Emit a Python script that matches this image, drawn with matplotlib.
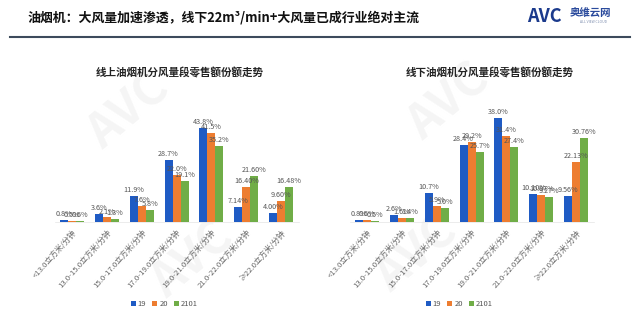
import numpy as np
import matplotlib.pyplot as plt

plt.rcParams['font.family'] = ['Noto Sans CJK SC', 'DejaVu Sans']

categories = ['<13.0立方米/分钟', '13.0-15.0立方米/分钟', '15.0-17.0立方米/分钟',
              '17.0-19.0立方米/分钟', '19.0-21.0立方米/分钟', '21.0-22.0立方米/分钟',
              '≥22.0立方米/分钟']
series_names = ['19', '20', '2101']

online_19 = [0.8, 3.6, 11.9, 28.7, 43.8, 7.14, 4.00]
online_20 = [0.5, 2.1, 7.6, 22.0, 41.5, 16.40, 9.60]
online_2101 = [0.6, 1.3, 5.8, 19.1, 35.2, 21.60, 16.48]

offline_19 = [0.8, 2.6, 10.7, 28.4, 38.0, 10.10, 9.56]
offline_20 = [0.6, 1.6, 5.9, 29.2, 31.4, 10.07, 22.13]
offline_2101 = [0.5, 1.4, 5.0, 25.7, 27.4, 9.27, 30.76]

decimals = [1, 1, 1, 1, 1, 2, 2]

colors = ['#1F5BC4', '#ED7D31', '#70AD47']


def draw(ax, data, ymax, title, fig_x):
    x = np.arange(len(categories))
    w = 0.23
    for i, vals in enumerate(data):
        pos = x + (i - 1) * w
        ax.bar(pos, vals, w, color=colors[i], label=series_names[i])
        for p, v, d in zip(pos, vals, decimals):
            ax.text(p, v + ymax * 0.015, f'{v:.{d}f}%', ha='center', va='bottom',
                    fontsize=5.2, color='#555555')
    ax.set_xlim(-0.5, len(categories) - 0.5)
    ax.set_ylim(0, ymax)
    ax.set_yticks([])
    ax.set_xticks(x)
    ax.set_xticklabels(categories, rotation=48, ha='right', rotation_mode='anchor',
                       fontsize=5.6, color='#666666')
    ax.tick_params(axis='x', length=0, pad=5)
    for s in ['top', 'right', 'left']:
        ax.spines[s].set_visible(False)
    ax.spines['bottom'].set_color('#e4e4e4')
    ax.spines['bottom'].set_linewidth(0.5)
    ax.patch.set_alpha(0)
    fig.text(fig_x, 1 - 73 / 317, title, ha='center', va='center', fontsize=7.6,
             fontweight='bold', color='#222222')
    ax.legend(loc='center', bbox_to_anchor=(0.45, -0.62), ncol=3, frameon=False,
              fontsize=5.5, handlelength=0.6, handleheight=0.6, handletextpad=0.3,
              columnspacing=0.8, labelcolor='#555555')


fig = plt.figure(figsize=(6.4, 3.17), dpi=100)

# faint watermarks
for wx, wy in [(0.2, 0.65), (0.7, 0.68), (0.3, 0.18), (0.65, 0.2)]:
    fig.text(wx, wy, 'AVC', fontsize=34, fontweight='bold', color='#f5f5f5',
             rotation=40, ha='center', va='center', zorder=-5)

fig.text(28 / 640, 1 - 17 / 317, '油烟机：大风量加速渗透，线下22m³/min+大风量已成行业绝对主流',
         fontsize=9.3, fontweight='bold', color='#111111', va='center', ha='left')
fig.add_artist(plt.Line2D([10 / 640, 630 / 640], [1 - 37 / 317, 1 - 37 / 317],
                          color='#3d4b5c', linewidth=1.5))
fig.text(527 / 640, 1 - 16 / 317, 'AVC', fontsize=13, fontweight='bold', style='italic',
         color='#1b3a8c', va='center', ha='left')
fig.text(570 / 640, 1 - 13 / 317, '奥维云网', fontsize=7.5, fontweight='bold',
         color='#2a4a9c', va='center', ha='left')
fig.text(580 / 640, 1 - 22 / 317, 'ALL VIEW CLOUD', fontsize=2.5,
         color='#8090b0', va='center', ha='left')

bottom = 1 - 222 / 317
height = 132 / 317
ax1 = fig.add_axes([54.6 / 640, bottom, 244 / 640, height])
draw(ax1, [online_19, online_20, online_2101], 61.4, '线上油烟机分风量段零售额份额走势', 180 / 640)
ax2 = fig.add_axes([349.6 / 640, bottom, 244 / 640, height])
draw(ax2, [offline_19, offline_20, offline_2101], 48.4, '线下油烟机分风量段零售额份额走势', 490 / 640)

fig.savefig('out.png', dpi=100)
